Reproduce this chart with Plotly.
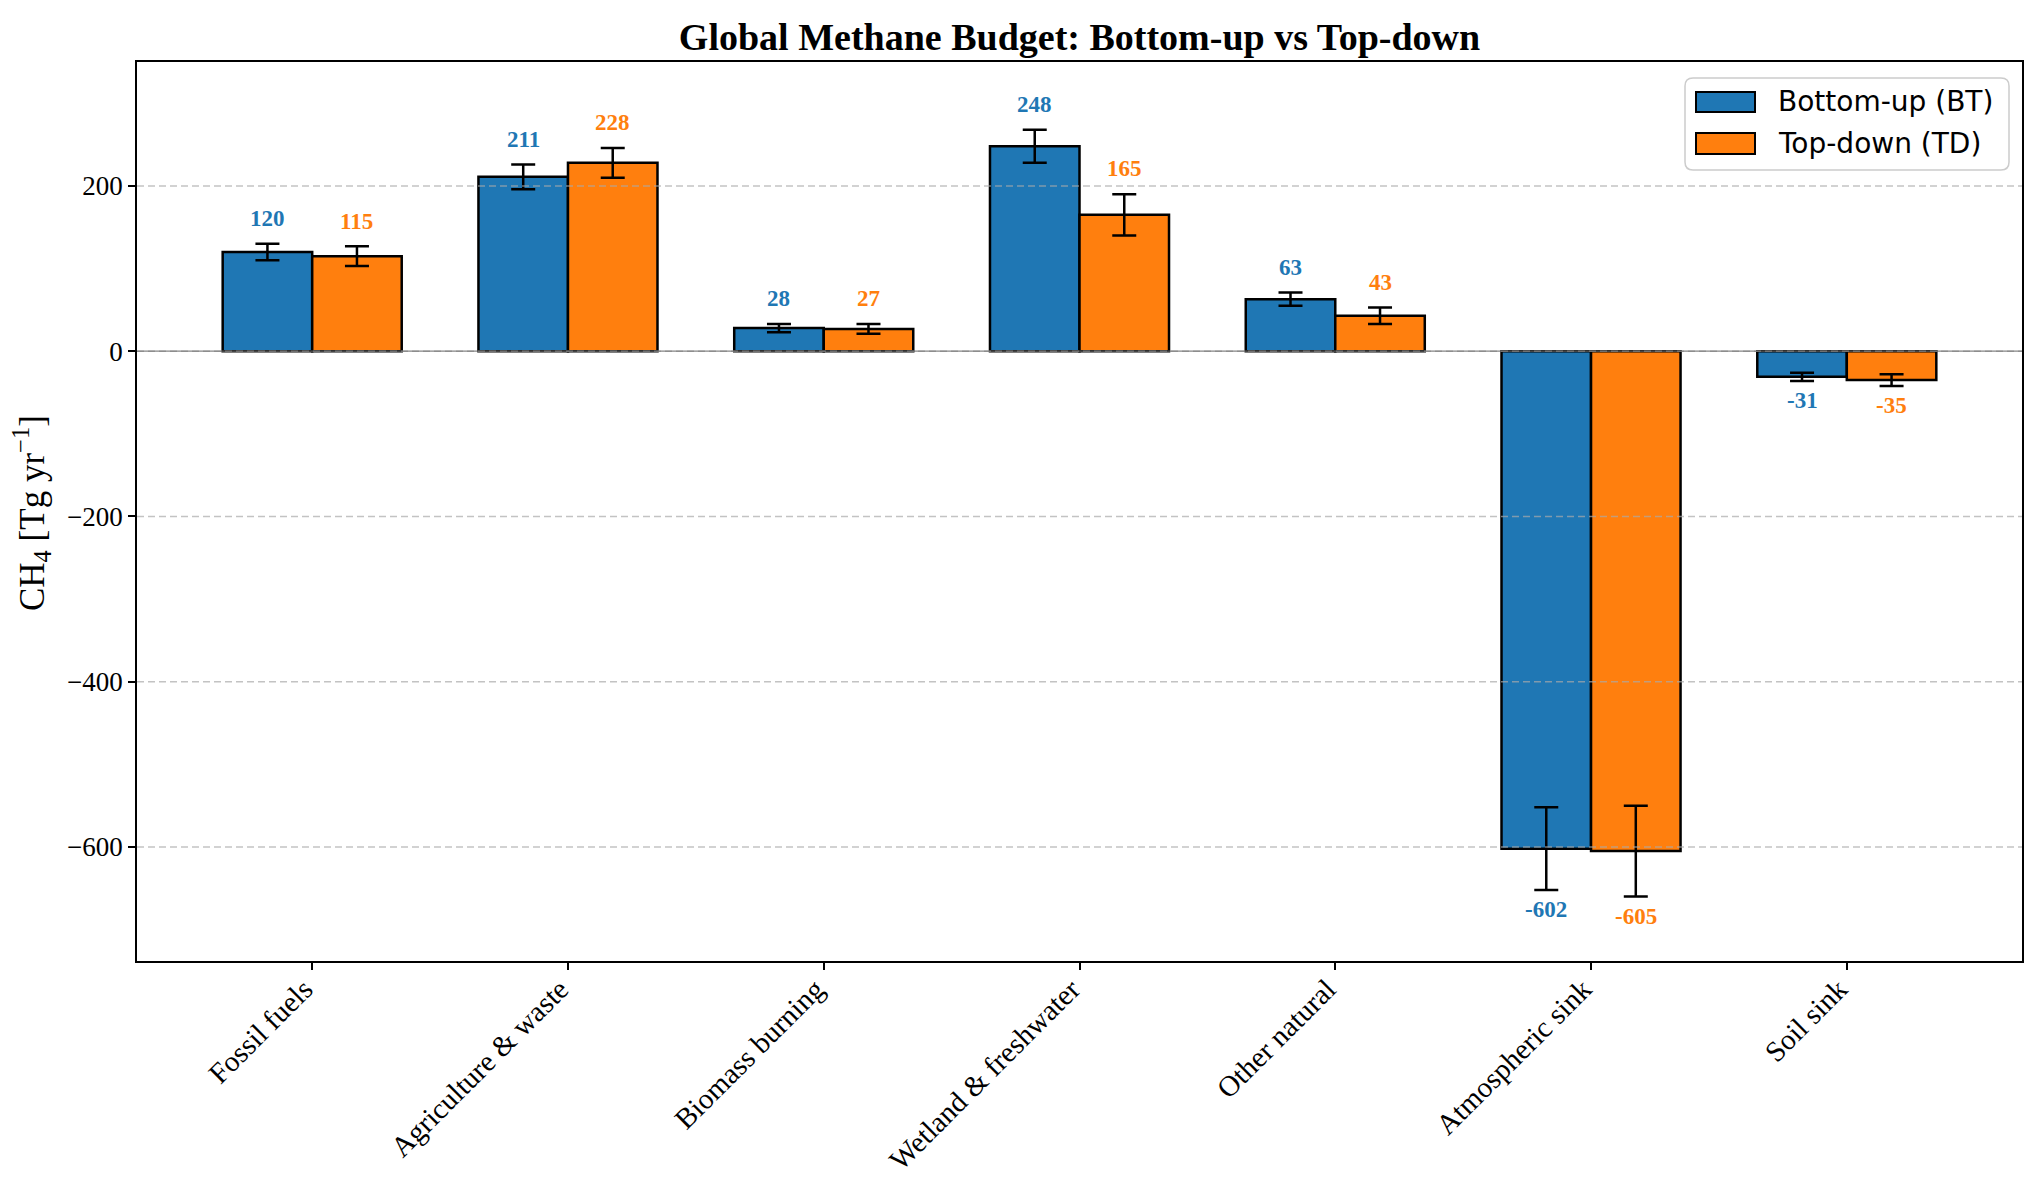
import plotly.graph_objects as go

categories = ["Fossil fuels", "Agriculture & waste", "Biomass burning",
              "Wetland & freshwater", "Other natural", "Atmospheric sink", "Soil sink"]
bt_values = [120, 211, 28, 248, 63, -602, -31]
td_values = [115, 228, 27, 165, 43, -605, -35]
bt_err = [10, 15, 5, 20, 8, 50, 5]
td_err = [12, 18, 6, 25, 10, 55, 7]
series_names = ["Bottom-up (BT)", "Top-down (TD)"]
colors = ["#1f77b4", "#ff7f0e"]
ytick_vals = [-600, -400, -200, 0, 200]

# page body has an 8px margin; size the figure so it fits the window
OFF = 8
W, H = 2042 - 2 * OFF, 1184 - 2 * OFF
# target plot area in window pixels
AX_L, AX_R, AX_T, AX_B = 137, 2022, 62, 961
ML, MT = AX_L - OFF, AX_T - OFF
PW, PH = AX_R - AX_L, AX_B - AX_T
MR, MB = W - ML - PW, H - MT - PH
YMIN, YMAX = -738, 350
BAR_W = 0.35


def px2x(px):
    return (px - AX_L) / PW


def py2y(py):
    return (AX_B - py) / PH


serif = "Liberation Serif, Times New Roman, serif"

fig = go.Figure()
for name, vals, errs, col in [(series_names[0], bt_values, bt_err, colors[0]),
                              (series_names[1], td_values, td_err, colors[1])]:
    fig.add_trace(go.Bar(
        x=categories, y=vals, name=name,
        marker=dict(color=col, line=dict(color="black", width=2.5)),
        error_y=dict(type="data", array=errs, color="black", thickness=2.5, width=12),
        showlegend=False,
    ))

annotations = []
offset = 13
for k, (vals, errs, col) in enumerate([(bt_values, bt_err, colors[0]),
                                        (td_values, td_err, colors[1])]):
    shift = -BAR_W / 2 if k == 0 else BAR_W / 2
    for i, (v, e) in enumerate(zip(vals, errs)):
        if v >= 0:
            y, ya = v + e + offset, "bottom"
        else:
            y, ya = v - e - 6, "top"
        annotations.append(dict(
            x=i + shift, y=y, xref="x", yref="y", text=f"<b>{v}</b>",
            showarrow=False, yanchor=ya, xanchor="center",
            font=dict(family=serif, size=23, color=col)))

# y-axis label
annotations.append(dict(
    x=px2x(31), y=py2y(513), xref="paper", yref="paper",
    text="CH<sub>4</sub> [Tg yr<sup>−1</sup>]", textangle=-90,
    showarrow=False, xanchor="center", yanchor="middle",
    font=dict(family=serif, size=35, color="black")))

shapes = []
# gridlines drawn above bars (as in reference)
for t in ytick_vals:
    shapes.append(dict(type="line", xref="paper", yref="y", x0=0, x1=1, y0=t, y1=t,
                       line=dict(color="rgba(170,170,170,0.7)", width=1.5, dash="7px,4px"),
                       layer="above"))
shapes.append(dict(type="line", xref="paper", yref="y", x0=0, x1=1, y0=0, y1=0,
                   line=dict(color="rgba(110,110,110,0.85)", width=1.2), layer="above"))

# legend (custom, matplotlib style)
lx0, lx1, ly0, ly1 = 1685, 2009, 78, 170
r = 8
x0, x1 = px2x(lx0), px2x(lx1)
y0, y1 = py2y(ly1), py2y(ly0)
rx, ry = r / PW, r / PH
path = (f"M {x0+rx},{y0} L {x1-rx},{y0} Q {x1},{y0} {x1},{y0+ry} "
        f"L {x1},{y1-ry} Q {x1},{y1} {x1-rx},{y1} L {x0+rx},{y1} Q {x0},{y1} {x0},{y1-ry} "
        f"L {x0},{y0+ry} Q {x0},{y0} {x0+rx},{y0} Z")
shapes.append(dict(type="path", xref="paper", yref="paper", path=path,
                   fillcolor="rgba(255,255,255,0.85)",
                   line=dict(color="rgba(204,204,204,1)", width=1.5), layer="above"))
rows = [(92, 112), (133, 154)]
for (ra, rb), name, col in zip(rows, series_names, colors):
    shapes.append(dict(type="rect", xref="paper", yref="paper",
                       x0=px2x(1696), x1=px2x(1755), y0=py2y(rb), y1=py2y(ra),
                       fillcolor=col, line=dict(color="black", width=2), layer="above"))
    annotations.append(dict(
        x=px2x(1776), y=py2y((ra + rb) / 2), xref="paper", yref="paper",
        text=name, showarrow=False, xanchor="left", yanchor="middle",
        font=dict(family="DejaVu Sans, sans-serif", size=28, color="black")))

fig.update_layout(
    width=W, height=H,
    margin=dict(l=ML, r=MR, t=MT, b=MB, autoexpand=False),
    paper_bgcolor="white", plot_bgcolor="white",
    barmode="group", bargap=1 - 2 * BAR_W, bargroupgap=0,
    title=dict(text="<b>Global Methane Budget: Bottom-up vs Top-down</b>",
               x=0.5, xref="paper", xanchor="center",
               y=1 - (37 - OFF) / H, yref="container", yanchor="middle",
               font=dict(family=serif, size=38, color="black")),
    annotations=annotations,
    shapes=shapes,
    font=dict(family=serif, color="black"),
)
fig.update_xaxes(
    type="category", range=[-0.685, len(categories) - 1 + 0.685],
    showline=True, mirror=True, linecolor="black", linewidth=1.5,
    ticks="outside", ticklen=7, tickwidth=1.5, tickcolor="black",
    tickangle=-45, tickfont=dict(family=serif, size=29, color="black"),
    ticklabelshift=-8, ticklabelstandoff=-9,
    showgrid=False, automargin=False,
)
fig.update_yaxes(
    range=[YMIN, YMAX], tickvals=ytick_vals,
    showline=True, mirror=True, linecolor="black", linewidth=1.5,
    ticks="outside", ticklen=7, tickwidth=1.5, tickcolor="black",
    tickfont=dict(family=serif, size=27, color="black"),
    showgrid=False, zeroline=False, automargin=False,
)

fig.write_html("out.html")
